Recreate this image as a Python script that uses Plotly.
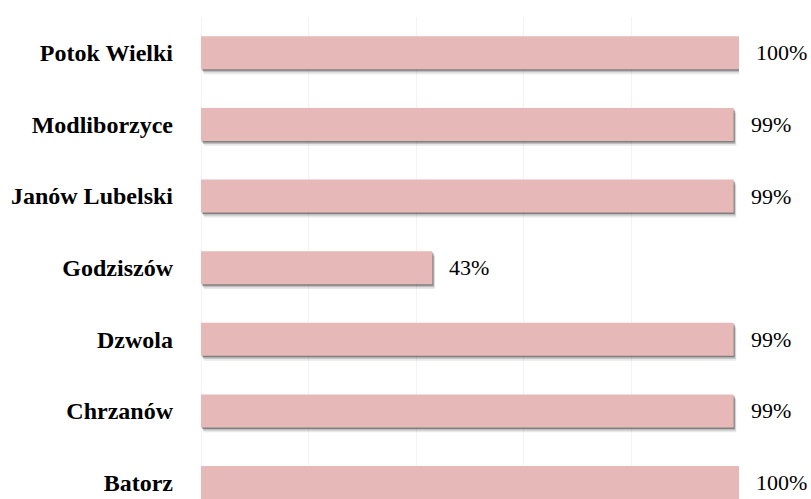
import plotly.graph_objects as go

categories = ["Batorz", "Chrzanów", "Dzwola", "Godziszów", "Janów Lubelski", "Modliborzyce", "Potok Wielki"]
values = [100, 99, 99, 43, 99, 99, 100]
value_labels = ["100%", "99%", "99%", "43%", "99%", "99%", "100%"]

BAR_COLOR = "#E6B8B7"
W = 0.46

fig = go.Figure()

# soft drop shadow layers
for dy, dx, a in [(0.022, 0.2, 0.32), (0.042, 0.35, 0.18), (0.068, 0.5, 0.09)]:
    fig.add_trace(go.Bar(
        y=categories, x=values, orientation="h",
        base=[dx] * len(values), width=W, offset=-W / 2 - dy,
        marker=dict(color=f"rgba(0,0,0,{a})", line=dict(width=0)),
        hoverinfo="skip", showlegend=False,
    ))

fig.add_trace(go.Bar(
    y=categories, x=values, orientation="h",
    width=W, offset=-W / 2,
    marker=dict(color=BAR_COLOR, line=dict(width=0)),
    showlegend=False,
))

for c, v, t in zip(categories, values, value_labels):
    fig.add_annotation(
        x=v, y=c, text=t, showarrow=False, xanchor="left", yanchor="middle",
        xshift=15, font=dict(family="Liberation Serif", size=22, color="#000000"),
    )

fig.update_layout(
    width=811, height=499,
    margin=dict(l=201, r=72, t=17, b=0, autoexpand=False),
    paper_bgcolor="white", plot_bgcolor="white",
    barmode="overlay",
    xaxis=dict(range=[0, 100], dtick=20, showgrid=True, gridcolor="#F3F3F3", gridwidth=1,
               zeroline=True, zerolinecolor="#F3F3F3", zerolinewidth=1,
               showticklabels=False, showline=False, fixedrange=True),
    yaxis=dict(type="category", categoryorder="array", categoryarray=categories,
               range=[-0.23, 6.5], showgrid=False, showline=False, zeroline=False,
               ticks="", ticklabelstandoff=27,
               tickfont=dict(family="Liberation Serif", size=24, color="#000000", weight="bold")),
)

fig.write_html(
    "out.html",
    config={"displayModeBar": False},
    post_script="document.body.style.margin='0';document.body.style.overflow='hidden';",
)
